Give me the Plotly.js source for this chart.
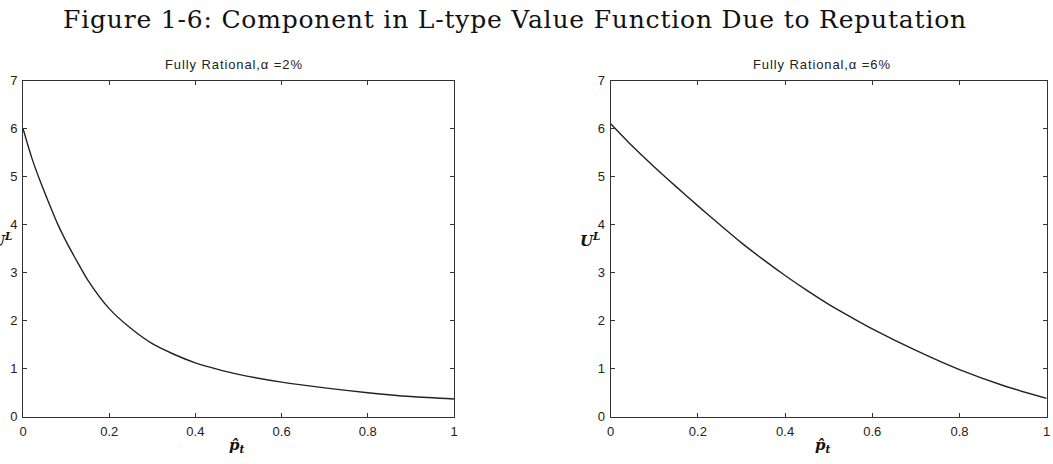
<!DOCTYPE html>
<html>
<head>
<meta charset="utf-8">
<script src="https://cdn.plot.ly/plotly-3.0.1.min.js"></script>
<style>
html,body{margin:0;padding:0;background:#fff;}
#chart{width:1053px;height:464px;}
#chart .gtitle{letter-spacing:0.8px;}
#chart .sub-title{letter-spacing:0.9px;}
</style>
</head>
<body>
<div id="chart"></div>
<script>
// Data
const pLeft = [0, 0.02, 0.04, 0.06, 0.08, 0.1, 0.12, 0.15, 0.2, 0.25, 0.3, 0.35, 0.4, 0.45, 0.5, 0.6, 0.7, 0.8, 0.9, 1.0];
const uLeft = [6.0, 5.4, 4.9, 4.45, 4.02, 3.65, 3.32, 2.85, 2.25, 1.84, 1.52, 1.3, 1.12, 0.99, 0.88, 0.72, 0.6, 0.5, 0.42, 0.37];
const pRight = [0, 0.05, 0.1, 0.15, 0.2, 0.25, 0.3, 0.35, 0.4, 0.45, 0.5, 0.55, 0.6, 0.7, 0.8, 0.9, 1.0];
const uRight = [6.1, 5.63, 5.2, 4.79, 4.39, 4.0, 3.62, 3.27, 2.94, 2.63, 2.34, 2.08, 1.83, 1.38, 0.98, 0.65, 0.38];
const mainTitle = "Figure 1-6: Component in L-type Value Function Due to Reputation";
const leftTitle = "Fully Rational,\u03b1 =2%";
const rightTitle = "Fully Rational,\u03b1 =6%";
const xTickVals = [0, 0.2, 0.4, 0.6, 0.8, 1];
const xTickText = ["0", "0.2", "0.4", "0.6", "0.8", "1"];
const yTickVals = [0, 1, 2, 3, 4, 5, 6, 7];

const W = 1053, H = 464;
const px = v => v / W;
const py = v => 1 - v / H;

const lineStyle = {color: '#222', width: 1.4, shape: 'spline', smoothing: 0.8};
const traces = [
  {x: pLeft, y: uLeft, type: 'scatter', mode: 'lines', line: lineStyle, xaxis: 'x', yaxis: 'y', hoverinfo: 'skip'},
  {x: pRight, y: uRight, type: 'scatter', mode: 'lines', line: lineStyle, xaxis: 'x2', yaxis: 'y2', hoverinfo: 'skip'}
];

const tickFont = {family: 'Liberation Sans, Arial, sans-serif', size: 13, color: '#222'};
function xAxis(domain, anchor) {
  return {domain: domain, anchor: anchor, range: [0, 1], tickvals: xTickVals, ticktext: xTickText,
    ticks: 'inside', ticklen: 4, tickcolor: '#333', showline: true, linecolor: '#333', linewidth: 1,
    mirror: 'ticks', showgrid: false, zeroline: false, tickfont: tickFont, ticklabelstandoff: 3, fixedrange: true};
}
function yAxis(domain, anchor) {
  return {domain: domain, anchor: anchor, range: [0, 7], tickvals: yTickVals,
    ticks: 'inside', ticklen: 4, tickcolor: '#333', showline: true, linecolor: '#333', linewidth: 1,
    mirror: 'ticks', showgrid: false, zeroline: false, tickfont: tickFont, ticklabelstandoff: 2, fixedrange: true};
}
const yDom = [py(416.7), py(80.5)];
const leftDom = [px(23), px(454)];
const rightDom = [px(610.7), px(1046.7)];

const subFont = {family: 'Liberation Sans, Arial, sans-serif', size: 13, color: '#222'};
const labFont = {family: 'DejaVu Serif, serif', size: 15, color: '#111'};
const annotations = [
  {text: leftTitle, x: px(234), y: py(64), xref: 'paper', yref: 'paper', showarrow: false, font: subFont, xanchor: 'center', yanchor: 'middle'},
  {text: rightTitle, x: px(822), y: py(64), xref: 'paper', yref: 'paper', showarrow: false, font: subFont, xanchor: 'center', yanchor: 'middle'},
  {text: '<b><i>U</i></b><sup><b><i>L</i></b></sup>', x: px(2), y: py(240), xref: 'paper', yref: 'paper', showarrow: false, font: labFont, xanchor: 'center', yanchor: 'middle'},
  {text: '<b><i>U</i></b><sup><b><i>L</i></b></sup>', x: px(590), y: py(240), xref: 'paper', yref: 'paper', showarrow: false, font: labFont, xanchor: 'center', yanchor: 'middle'},
  {text: '<b><i>p\u0302</i></b><sub><b><i>t</i></b></sub>', x: px(237), y: py(445), xref: 'paper', yref: 'paper', showarrow: false, font: labFont, xanchor: 'center', yanchor: 'middle'},
  {text: '<b><i>p\u0302</i></b><sub><b><i>t</i></b></sub>', x: px(823), y: py(445), xref: 'paper', yref: 'paper', showarrow: false, font: labFont, xanchor: 'center', yanchor: 'middle'}
];

const layout = {
  width: W, height: H,
  margin: {l: 0, r: 0, t: 0, b: 0},
  paper_bgcolor: '#fff', plot_bgcolor: '#fff',
  showlegend: false,
  title: {text: mainTitle, font: {family: 'DejaVu Serif, serif', size: 25, color: '#111'},
    x: px(515), xanchor: 'center', xref: 'paper', y: 1 - 19 / H, yref: 'container', yanchor: 'middle'},
  xaxis: xAxis(leftDom, 'y'),
  yaxis: yAxis(yDom, 'x'),
  xaxis2: xAxis(rightDom, 'y2'),
  yaxis2: yAxis(yDom, 'x2'),
  annotations: annotations
};

Plotly.newPlot('chart', traces, layout, {displayModeBar: false, staticPlot: true}).then(function (gd) {
  // subplot titles get slight letter spacing like the scanned original
  const anns = gd.querySelectorAll('.annotation');
  [0, 1].forEach(function (i) { if (anns[i]) anns[i].classList.add('sub-title'); });
});
</script>
</body>
</html>
